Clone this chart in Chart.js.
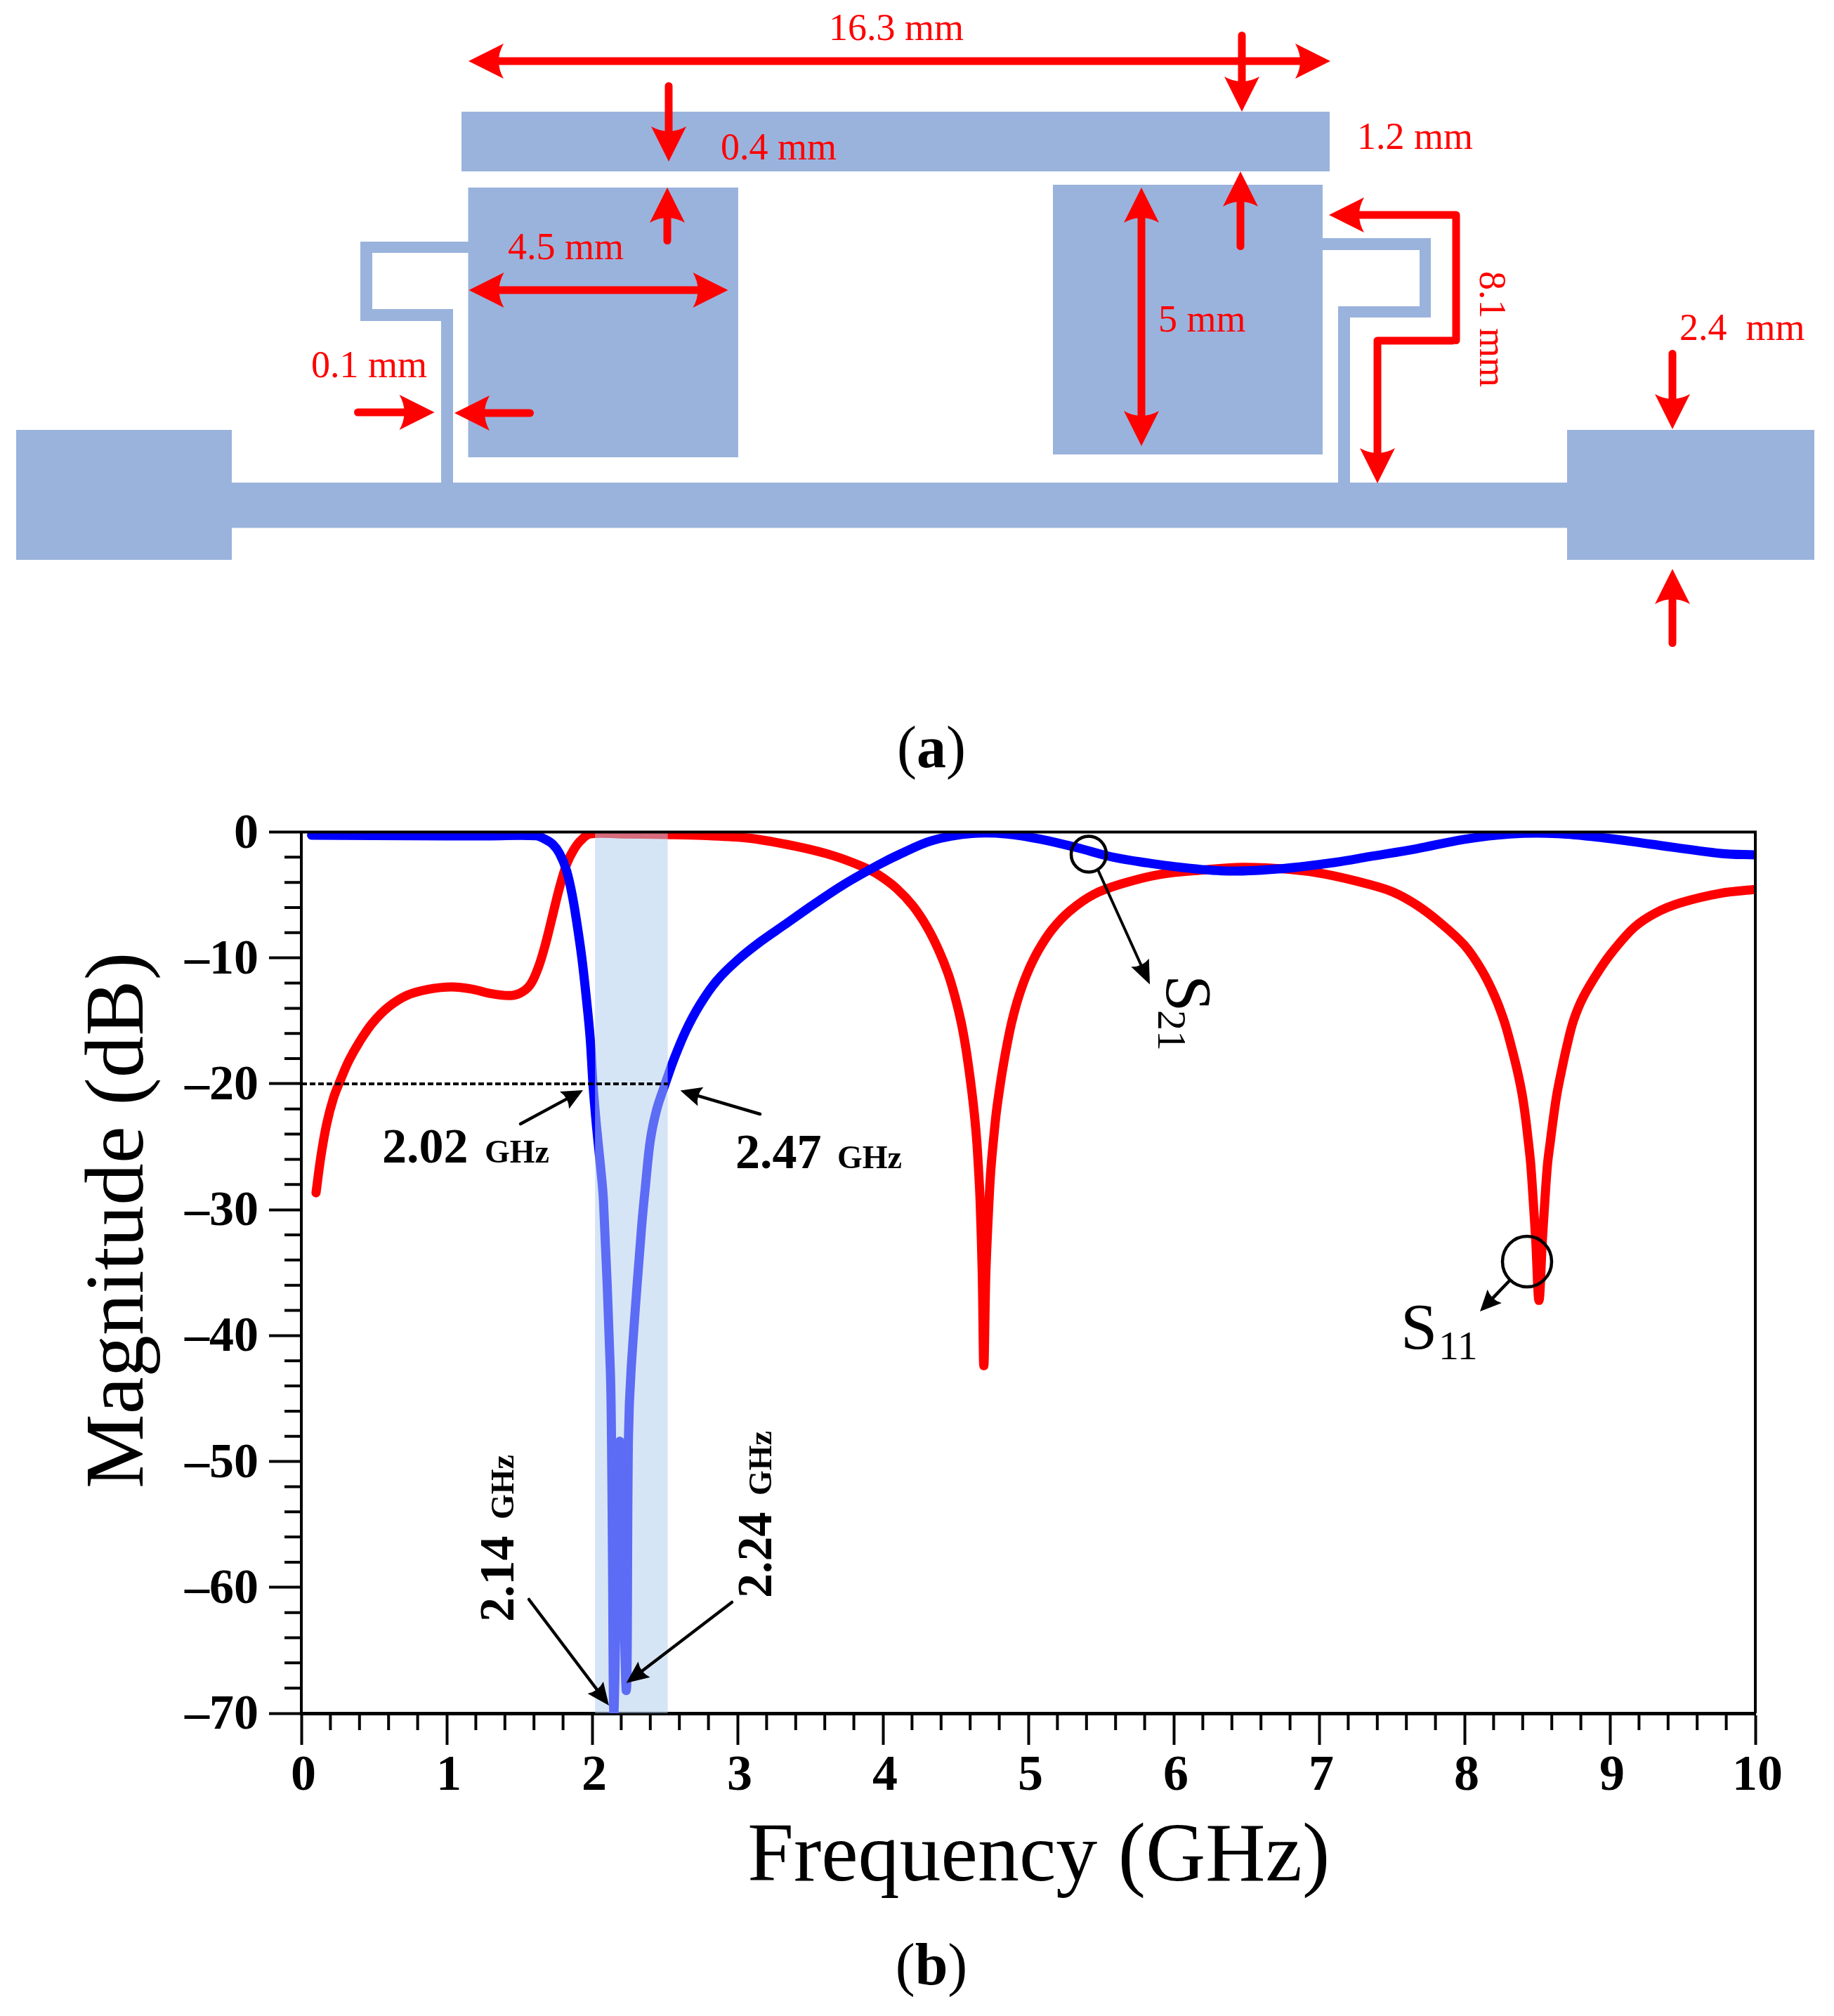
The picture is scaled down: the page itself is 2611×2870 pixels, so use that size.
<!DOCTYPE html>
<html>
<head>
<meta charset="utf-8">
<style>html,body{margin:0;padding:0;background:#fff}canvas{display:block}</style>
<script src="https://cdn.jsdelivr.net/npm/chart.js@4"></script>
</head>
<body>
<canvas id="c" width="2611" height="2870"></canvas>
<script>
const s11Freq = [0.101,0.134,0.174,0.222,0.271,0.327,0.399,0.488,0.6,0.729,0.874,1.035,1.18,1.293,1.422,1.502,1.575,1.631,1.68,1.728,1.776,1.825,1.873,1.921,1.986,2.2,2.5,2.758,3.08,3.403,3.65,3.854,3.966,4.095,4.208,4.304,4.385,4.449,4.497,4.536,4.566,4.59,4.611,4.629,4.645,4.657,4.668,4.683,4.694,4.708,4.73,4.743,4.76,4.778,4.8,4.825,4.854,4.888,4.932,4.99,5.068,5.165,5.286,5.448,5.641,5.899,6.22,6.47,6.793,7.035,7.348,7.509,7.67,7.831,8,8.115,8.205,8.272,8.322,8.362,8.395,8.419,8.438,8.455,8.472,8.49,8.512,8.535,8.553,8.571,8.591,8.612,8.636,8.668,8.703,8.749,8.815,8.93,9.023,9.168,9.312,9.489,9.763,10];
const s11Mag = [-28.66,-25.8,-23.2,-21.1,-19.65,-18.16,-16.68,-15.19,-13.89,-12.96,-12.49,-12.3,-12.49,-12.81,-12.99,-12.81,-12.12,-10.72,-8.86,-6.63,-4.4,-2.54,-1.42,-0.68,-0.15,-0.15,-0.2,-0.27,-0.49,-1.14,-1.85,-2.72,-3.38,-4.49,-5.89,-7.56,-9.42,-11.28,-13.14,-15,-16.86,-18.72,-20.58,-22.44,-24.5,-26.7,-29.2,-35,-42.4,-35,-29.2,-26.7,-24.5,-22.44,-20.58,-18.72,-16.86,-15,-13.14,-11.28,-9.42,-7.72,-6.26,-4.96,-4.12,-3.38,-3,-2.8,-2.96,-3.33,-4.17,-4.77,-5.79,-7.19,-9,-10.91,-12.96,-15,-17.05,-18.91,-20.77,-22.63,-24.5,-26.35,-29.2,-32.5,-37.2,-32.5,-29.2,-26.35,-24.5,-22.63,-20.77,-18.91,-17.05,-15,-13.14,-10.91,-9.42,-7.56,-6.44,-5.61,-4.86,-4.56];
const s21Freq = [0.07,0.5,1,1.3,1.614,1.68,1.728,1.776,1.825,1.865,1.897,1.929,1.958,1.986,2.006,2.03,2.056,2.078,2.125,2.133,2.14,2.15,2.19,2.235,2.25,2.268,2.34,2.366,2.4,2.445,2.501,2.565,2.646,2.742,2.855,3,3.161,3.322,3.483,3.725,3.966,4.127,4.337,4.61,4.852,5.093,5.335,5.576,5.818,6.06,6.382,6.752,7.116,7.348,7.67,7.992,8.314,8.64,8.958,9.28,9.763,10];
const s21Mag = [-0.25,-0.28,-0.3,-0.3,-0.3,-0.59,-0.96,-1.7,-3.1,-5.14,-7.38,-9.98,-12.96,-16.3,-20.06,-23.37,-26.35,-29.3,-42.7,-48,-57.7,-70,-48.4,-68.2,-48,-42.7,-31.4,-28.2,-24.5,-22,-20.06,-17.98,-15.75,-13.7,-11.84,-10.17,-8.68,-7.38,-6.07,-4.21,-2.63,-1.7,-0.68,-0.12,-0.15,-0.59,-1.24,-1.98,-2.45,-2.82,-3.1,-2.9,-2.4,-1.95,-1.33,-0.59,-0.15,-0.12,-0.46,-0.96,-1.7,-1.82];
const markerFreq = [0,2.52];
const markerMag = [-20,-20];
const bandFreq = [2.02,2.52];
const xTitle = 'Frequency (GHz)';
const yTitle = 'Magnitude (dB)';

const pair = (xs, ys) => xs.map((x, i) => ({x, y: ys[i]}));
const SERIF = '"Liberation Serif"';
const RED = '#ff0000', COPPER = 'rgb(154,179,220)';

function txt(ctx, s, x, y, font, color, rot) {
  ctx.save();
  ctx.translate(x, y);
  if (rot) ctx.rotate(rot);
  ctx.font = font; ctx.fillStyle = color || '#000';
  ctx.textAlign = 'left'; ctx.textBaseline = 'alphabetic';
  ctx.fillText(s, 0, 0);
  ctx.restore();
}
function head(ctx, x0, y0, x1, y1, len, hw, notch, color) {
  const a = Math.atan2(y1 - y0, x1 - x0);
  ctx.save();
  ctx.translate(x1, y1); ctx.rotate(a);
  ctx.fillStyle = color;
  ctx.beginPath();
  ctx.moveTo(0, 0);
  ctx.lineTo(-len, -hw);
  ctx.quadraticCurveTo(-len + notch, 0, -len, hw);
  ctx.closePath();
  ctx.fill();
  ctx.restore();
}
function redPath(ctx, pts, both) {
  const n = pts.length;
  ctx.save();
  ctx.strokeStyle = RED; ctx.lineWidth = 11; ctx.lineCap = 'round'; ctx.lineJoin = 'round';
  const along = (p, q, t) => { const d = Math.hypot(q[0]-p[0], q[1]-p[1]); return [p[0] + (q[0]-p[0]) * t / d, p[1] + (q[1]-p[1]) * t / d]; };
  const endP = along(pts[n-1], pts[n-2], 30);
  const startP = along(pts[0], pts[1], both ? 30 : 5.5);
  ctx.beginPath();
  ctx.moveTo(startP[0], startP[1]);
  for (let i = 1; i < n - 1; i++) ctx.lineTo(pts[i][0], pts[i][1]);
  ctx.lineTo(endP[0], endP[1]);
  ctx.stroke();
  ctx.restore();
  head(ctx, pts[n-2][0], pts[n-2][1], pts[n-1][0], pts[n-1][1], 50, 25, 14, RED);
  if (both) head(ctx, pts[1][0], pts[1][1], pts[0][0], pts[0][1], 50, 25, 14, RED);
}
function blackArrow(ctx, x0, y0, x1, y1, lw, len, hw) {
  const d = Math.hypot(x1-x0, y1-y0);
  ctx.save();
  ctx.strokeStyle = '#000'; ctx.lineWidth = lw; ctx.lineCap = 'round';
  ctx.beginPath(); ctx.moveTo(x0, y0);
  ctx.lineTo(x1 - (x1-x0) * (len-6) / d, y1 - (y1-y0) * (len-6) / d);
  ctx.stroke(); ctx.restore();
  head(ctx, x0, y0, x1, y1, len, hw, 7, '#000');
}

const schematic = {
  id: 'schematic',
  beforeDatasetsDraw(chart) {
    const ctx = chart.ctx;
    ctx.save();
    ctx.fillStyle = COPPER;
    const rects = [[657,159,1236,85],[666.5,267,384.5,384],[1499,263,384,384],[23,612,307,185],[2231,612,352,185],[330,687,1901,64.5]];
    rects.forEach(r => ctx.fillRect(r[0], r[1], r[2], r[3]));
    // left stub
    [[513,344,155,16],[513,344,17,113],[513,440,132,17],[628,440,17,250]].forEach(r => ctx.fillRect(r[0], r[1], r[2], r[3]));
    // right stub
    [[1883,339,154,17],[2021,339,16,113],[1905,436,132,16],[1905,436,17,254]].forEach(r => ctx.fillRect(r[0], r[1], r[2], r[3]));
    ctx.restore();

    redPath(ctx, [[667,87],[1894,87]], true);
    redPath(ctx, [[952,117],[952,230]]);
    redPath(ctx, [[950,348],[950,267]]);
    redPath(ctx, [[667.5,413],[1036.5,413]], true);
    redPath(ctx, [[504,587],[618.6,587]]);
    redPath(ctx, [[760,588],[647,588]]);
    redPath(ctx, [[1768,45],[1768,159]]);
    redPath(ctx, [[1766,356],[1766,244]]);
    redPath(ctx, [[1625,267],[1625,635]], true);
    redPath(ctx, [[2073,485],[1961,485],[1961,688]]);
    redPath(ctx, [[2073,490],[2073,306],[1892,306]]);
    redPath(ctx, [[2381,498],[2381,611]]);
    redPath(ctx, [[2381,921],[2381,810]]);

    const rf = '54px ' + SERIF;
    txt(ctx, '16.3 mm', 1180, 57, rf, RED);
    txt(ctx, '0.4 mm', 1026, 227, rf, RED);
    txt(ctx, '4.5 mm', 723, 369, rf, RED);
    txt(ctx, '0.1 mm', 443, 537, rf, RED);
    txt(ctx, '1.2 mm', 1932, 212, rf, RED);
    txt(ctx, '5 mm', 1649, 472, rf, RED);
    txt(ctx, '2.4  mm', 2391, 484, rf, RED);
    txt(ctx, '8.1 mm', 2107, 386, rf, RED, Math.PI / 2);

    const lab = (s, cx, y) => {
      const w1 = 84 * 0.333;
      ctx.save(); ctx.font = 'bold 84px ' + SERIF; const wb = ctx.measureText(s).width; ctx.restore();
      const x = cx - (2 * w1 + wb) / 2;
      txt(ctx, '(', x, y, '84px ' + SERIF);
      txt(ctx, s, x + w1, y, 'bold 84px ' + SERIF);
      txt(ctx, ')', x + w1 + wb, y, '84px ' + SERIF);
    };
    lab('a', 1326, 1092);
    lab('b', 1326, 2825);
  }
};

const band = {
  id: 'band',
  afterDatasetDraw(chart, args) {
    if (chart.data.datasets[args.index].label !== 'S21') return;
    const ctx = chart.ctx, x = chart.scales.x, a = chart.chartArea;
    const l = x.getPixelForValue(bandFreq[0]), r = x.getPixelForValue(bandFreq[1]);
    ctx.save();
    ctx.fillStyle = 'rgba(177,206,236,0.525)';
    ctx.fillRect(l, a.top, r - l, a.bottom - a.top);
    ctx.restore();
  }
};

const overlay = {
  id: 'overlay',
  afterDraw(chart) {
    const ctx = chart.ctx, a = chart.chartArea, sx = chart.scales.x, sy = chart.scales.y;
    ctx.save();
    ctx.strokeStyle = '#000'; ctx.lineWidth = 4; ctx.lineCap = 'butt';
    ctx.beginPath();
    sx.ticks.forEach(t => {
      if (Math.abs(t.value - Math.round(t.value)) > 1e-6) {
        const p = sx.getPixelForValue(t.value);
        ctx.moveTo(p, a.bottom); ctx.lineTo(p, a.bottom + 24);
      }
    });
    sy.ticks.forEach(t => {
      if (Math.abs(t.value % 10) > 1e-6) {
        const p = sy.getPixelForValue(t.value);
        ctx.moveTo(a.left, p); ctx.lineTo(a.left - 24, p);
      }
    });
    ctx.moveTo(a.left - 2, a.top); ctx.lineTo(a.right + 2, a.top);
    ctx.moveTo(a.right, a.top); ctx.lineTo(a.right, a.bottom);
    ctx.stroke();
    ctx.restore();

    // annotations
    blackArrow(ctx, 741, 1600, 830, 1552, 4.5, 30, 14);
    blackArrow(ctx, 1082, 1586, 968.6, 1552.6, 4.5, 30, 14);
    blackArrow(ctx, 753, 2277, 867, 2428, 4.5, 32, 14);
    blackArrow(ctx, 1042, 2281, 891.6, 2396, 4.5, 32, 14);
    const b70 = 'bold 70px ' + SERIF, b46 = 'bold 46px ' + SERIF;
    txt(ctx, '2.02', 544, 1655, b70); txt(ctx, 'GHz', 690, 1655, b46);
    txt(ctx, '2.47', 1047, 1663, b70); txt(ctx, 'GHz', 1192, 1663, b46);
    txt(ctx, '2.14', 731, 2309, b70, '#000', -Math.PI/2); txt(ctx, 'GHz', 731, 2163, b46, '#000', -Math.PI/2);
    txt(ctx, '2.24', 1097.5, 2275, b70, '#000', -Math.PI/2); txt(ctx, 'GHz', 1097.5, 2129, b46, '#000', -Math.PI/2);

    ctx.save();
    ctx.strokeStyle = '#000'; ctx.lineWidth = 4.5;
    ctx.beginPath(); ctx.ellipse(1550, 1216, 25, 25.5, 0, 0, 2 * Math.PI); ctx.stroke();
    ctx.beginPath(); ctx.ellipse(2174, 1796, 35, 36, 0, 0, 2 * Math.PI); ctx.stroke();
    ctx.restore();
    blackArrow(ctx, 1563.4, 1239, 1637, 1401.5, 4, 34, 14);
    blackArrow(ctx, 2148.7, 1823.5, 2107, 1867, 4.5, 30, 14);
    txt(ctx, 'S', 1994, 1920, '94px ' + SERIF);
    txt(ctx, '11', 2048, 1935, '58px ' + SERIF);
    txt(ctx, 'S', 1661, 1388, '94px ' + SERIF, '#000', Math.PI/2);
    txt(ctx, '21', 1649, 1438, '58px ' + SERIF, '#000', Math.PI/2);
  }
};

new Chart(document.getElementById('c'), {
  type: 'line',
  data: { datasets: [
    { label: 'Marker', data: pair(markerFreq, markerMag), borderColor: '#000', borderWidth: 4, borderDash: [8,4], pointRadius: 0, clip: 0, order: 0 },
    { label: 'S21', data: pair(s21Freq, s21Mag), borderColor: '#0000ff', borderWidth: 13, pointRadius: 0, tension: 0.35, borderJoinStyle: 'round', borderCapStyle: 'round', clip: 0, order: 1 },
    { label: 'S11', data: pair(s11Freq, s11Mag), borderColor: '#ff0000', borderWidth: 13, pointRadius: 0, tension: 0.35, borderJoinStyle: 'round', borderCapStyle: 'round', clip: 0, order: 2 }
  ]},
  options: {
    responsive: false, animation: false, devicePixelRatio: 1,
    layout: { padding: { top: 1184.5, right: 112, left: 0, bottom: 0 } },
    plugins: { legend: { display: false }, tooltip: { enabled: false } },
    scales: {
      x: {
        type: 'linear', min: 0, max: 10,
        afterFit(s) { s.height = 431; },
        border: { display: true, color: '#000', width: 5 },
        grid: { drawOnChartArea: false, drawTicks: true, tickLength: 45, tickWidth: 4,
          tickColor: c => Math.abs(c.tick.value - Math.round(c.tick.value)) < 1e-6 ? '#000' : 'rgba(0,0,0,0)' },
        ticks: { stepSize: 0.2, autoSkip: false, maxRotation: 0, minRotation: 0, padding: 2, labelOffset: 3, color: '#000',
          font: { family: SERIF, size: 72, weight: 'bold' },
          callback: v => Math.abs(v - Math.round(v)) < 1e-6 ? String(Math.round(v)) : '' },
        title: { display: true, text: ' ' + xTitle, color: '#000', font: { family: SERIF, size: 118 }, padding: { top: 30, bottom: 153 } }
      },
      y: {
        type: 'linear', min: -70, max: 0,
        afterFit(s) { s.width = 429; },
        border: { display: true, color: '#000', width: 4 },
        grid: { drawOnChartArea: false, drawTicks: true, tickLength: 46, tickWidth: 4,
          tickColor: c => Math.abs(c.tick.value % 10) < 1e-6 ? '#000' : 'rgba(0,0,0,0)' },
        ticks: { stepSize: 2, autoSkip: false, padding: 15, labelOffset: 4, color: '#000',
          font: { family: SERIF, size: 70, weight: 'bold' },
          callback: v => Math.abs(v % 10) < 1e-6 ? (v < 0 ? '\u2013' + Math.abs(v) : '0') : '' },
        title: { display: true, text: '     ' + yTitle, color: '#000', font: { family: SERIF, size: 119 }, padding: { top: 100, bottom: 0 } }
      }
    }
  },
  plugins: [schematic, band, overlay]
});
</script>
</body>
</html>
